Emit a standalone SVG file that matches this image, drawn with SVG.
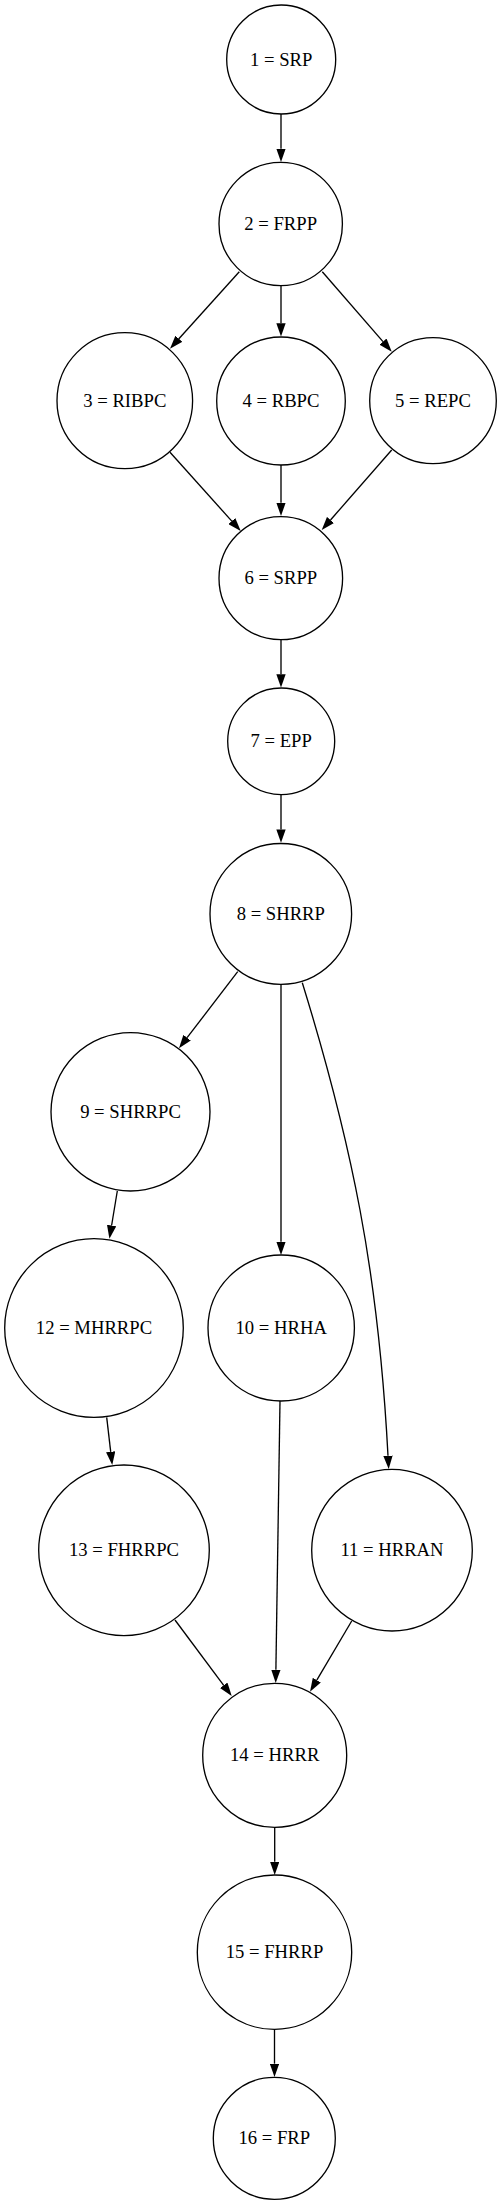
<svg xmlns="http://www.w3.org/2000/svg" width="502" height="2204" viewBox="0 0 502 2204">
<style>
.node ellipse{fill:none;stroke:#000;stroke-width:1.33}
.node text{font-family:"Liberation Serif","Times New Roman",serif;font-size:18.67px;text-anchor:middle;fill:#000}
.edge{fill:none;stroke:#000;stroke-width:1.33}
</style>
<defs>
<marker id="arr" markerUnits="userSpaceOnUse" viewBox="0 0 10 7" markerWidth="13.33" markerHeight="9.33" refX="0" refY="3.5" orient="auto">
<polygon points="0,0 10,3.5 0,7" fill="#000"/>
</marker>
</defs>
<rect width="502" height="2204" fill="#fff"/>
<g id="connectors">
<path class="edge" marker-end="url(#arr)" d="M281,114 L281,148.7"/>
<path class="edge" marker-end="url(#arr)" d="M239.3,271.7 L178.9,338.8"/>
<path class="edge" marker-end="url(#arr)" d="M281,285.7 L281,323.2"/>
<path class="edge" marker-end="url(#arr)" d="M322.3,271.7 L383,341.6"/>
<path class="edge" marker-end="url(#arr)" d="M170,452.3 L231.8,521.1"/>
<path class="edge" marker-end="url(#arr)" d="M281,465 L281,502.7"/>
<path class="edge" marker-end="url(#arr)" d="M391.7,450 L330.5,520"/>
<path class="edge" marker-end="url(#arr)" d="M281,639.7 L281,674.2"/>
<path class="edge" marker-end="url(#arr)" d="M281,794.7 L281,829.4"/>
<path class="edge" marker-end="url(#arr)" d="M237.7,971.7 L187.1,1037.7"/>
<path class="edge" marker-end="url(#arr)" d="M281,984.3 L281,1241.7"/>
<path class="edge" marker-end="url(#arr)" d="M302.3,982.7 C320,1040 345,1130 360,1210 C375,1290 384,1380 388,1455.7"/>
<path class="edge" marker-end="url(#arr)" d="M117.3,1191 L111.6,1225.5"/>
<path class="edge" marker-end="url(#arr)" d="M106.7,1417.3 L110.7,1451.8"/>
<path class="edge" marker-end="url(#arr)" d="M280,1401 L275.9,1669.7"/>
<path class="edge" marker-end="url(#arr)" d="M175,1620 L223.7,1685.3"/>
<path class="edge" marker-end="url(#arr)" d="M351.7,1621 L316.8,1680.2"/>
<path class="edge" marker-end="url(#arr)" d="M274.7,1827.3 L274.7,1861.7"/>
<path class="edge" marker-end="url(#arr)" d="M274.5,2029.3 L274.5,2063.7"/>
</g>
<g id="n1" class="node"><ellipse cx="281.2" cy="59.5" rx="54.5" ry="54.5"/><text x="281.2" y="65.5">1 = SRP</text></g>
<g id="n2" class="node"><ellipse cx="280.7" cy="224" rx="61.7" ry="61.7"/><text x="280.7" y="230">2 = FRPP</text></g>
<g id="n3" class="node"><ellipse cx="124.8" cy="400.7" rx="67.8" ry="68"/><text x="124.8" y="406.7">3 = RIBPC</text></g>
<g id="n4" class="node"><ellipse cx="281" cy="401" rx="64.3" ry="64"/><text x="281" y="407">4 = RBPC</text></g>
<g id="n5" class="node"><ellipse cx="433" cy="400.7" rx="63.3" ry="63"/><text x="433" y="406.7">5 = REPC</text></g>
<g id="n6" class="node"><ellipse cx="280.8" cy="578.2" rx="61.8" ry="61.5"/><text x="280.8" y="584.2">6 = SRPP</text></g>
<g id="n7" class="node"><ellipse cx="281.2" cy="741.3" rx="53.5" ry="53.3"/><text x="281.2" y="747.3">7 = EPP</text></g>
<g id="n8" class="node"><ellipse cx="280.8" cy="913.9" rx="70.8" ry="70.4"/><text x="280.8" y="919.9">8 = SHRRP</text></g>
<g id="n9" class="node"><ellipse cx="130.5" cy="1111.8" rx="79.5" ry="79.2"/><text x="130.5" y="1117.8">9 = SHRRPC</text></g>
<g id="n10" class="node"><ellipse cx="281.2" cy="1328" rx="73.2" ry="73"/><text x="281.2" y="1334">10 = HRHA</text></g>
<g id="n11" class="node"><ellipse cx="392" cy="1550.2" rx="80.3" ry="80.8"/><text x="392" y="1556.2">11 = HRRAN</text></g>
<g id="n12" class="node"><ellipse cx="94" cy="1328" rx="89.3" ry="89.3"/><text x="94" y="1334">12 = MHRRPC</text></g>
<g id="n13" class="node"><ellipse cx="124" cy="1550.3" rx="85.3" ry="85.3"/><text x="124" y="1556.3">13 = FHRRPC</text></g>
<g id="n14" class="node"><ellipse cx="274.7" cy="1755.3" rx="72" ry="72"/><text x="274.7" y="1761.3">14 = HRRR</text></g>
<g id="n15" class="node"><ellipse cx="274.5" cy="1952.2" rx="77.2" ry="77.2"/><text x="274.5" y="1958.2">15 = FHRRP</text></g>
<g id="n16" class="node"><ellipse cx="274.3" cy="2138.3" rx="61" ry="61"/><text x="274.3" y="2144.3">16 = FRP</text></g>
</svg>
